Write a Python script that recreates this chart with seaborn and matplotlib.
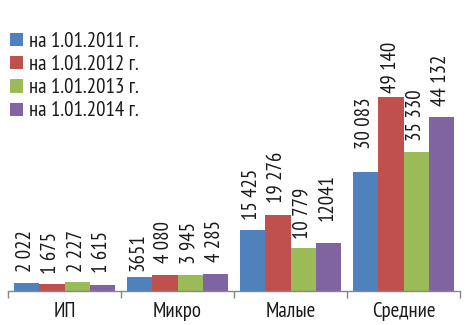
import matplotlib
matplotlib.use("Agg")
import matplotlib.pyplot as plt
import seaborn as sns
import pandas as pd

categories = ["ИП", "Микро", "Малые", "Средние"]
series = ["на 1.01.2011 г.", "на 1.01.2012 г.", "на 1.01.2013 г.", "на 1.01.2014 г."]
values_2011 = [2022, 3651, 15425, 30083]
values_2012 = [1675, 4080, 19276, 49140]
values_2013 = [2227, 3945, 10779, 35330]
values_2014 = [1615, 4285, 12041, 44132]
labels_2011 = ["2 022", "3651", "15 425", "30 083"]
labels_2012 = ["1 675", "4 080", "19 276", "49 140"]
labels_2013 = ["2 227", "3 945", "10 779", "35 330"]
labels_2014 = ["1 615", "4 285", "12041", "44 132"]

# gap between bar top and its value label, in pixels
gaps_2011 = [12, 7, 11, 25]
gaps_2012 = [12, 13, 13, 5]
gaps_2013 = [12, 13, 11, 12]
gaps_2014 = [13, 13, 24, 12]

palette = ["#4F81BD", "#C0504D", "#9BBB59", "#8064A2"]

sns.set_theme(style="white")
plt.rcParams["font.family"] = ["PT Sans Narrow", "Roboto Condensed", "DejaVu Sans"]

all_values = [values_2011, values_2012, values_2013, values_2014]
all_labels = [labels_2011, labels_2012, labels_2013, labels_2014]
all_gaps = [gaps_2011, gaps_2012, gaps_2013, gaps_2014]
rows = []
for s, vals in zip(series, all_values):
    for c, v in zip(categories, vals):
        rows.append({"cat": c, "series": s, "value": v})
df = pd.DataFrame(rows)

fig = plt.figure(figsize=(4.7, 3.25), dpi=100)
ax = fig.add_axes([8 / 470, 34 / 325, 452 / 470, 291 / 325])

sns.barplot(data=df, x="cat", y="value", hue="series", order=categories,
            hue_order=series, palette=palette, width=0.9, saturation=1,
            edgecolor="none", linewidth=0, ax=ax)

for container, labs, gaps in zip(ax.containers, all_labels, all_gaps):
    for bar, lab, gap in zip(container, labs, gaps):
        ax.annotate(lab, (bar.get_x() + bar.get_width() / 2, bar.get_height()),
                    xytext=(-0.7, gap * 0.72 - 1), textcoords="offset points",
                    rotation=90, ha="center", va="bottom",
                    fontsize=15, color="#1a1a1a")

ax.set_xlim(-0.5, 3.5)
ax.set_ylim(0, 73700)
ax.set_xlabel("")
ax.set_ylabel("")
ax.set_yticks([])
for side in ["top", "right", "left"]:
    ax.spines[side].set_visible(False)
ax.spines["bottom"].set_color("#868686")
ax.spines["bottom"].set_linewidth(1)

ax.set_xticks([-0.5, 0.5, 1.5, 2.5, 3.5], minor=True)
ax.tick_params(axis="x", which="minor", length=5, width=1, color="#868686",
               direction="out", bottom=True)
ax.tick_params(axis="x", which="major", length=0, labelsize=15,
               labelcolor="#1a1a1a", pad=8)

leg = ax.legend(loc="upper left", bbox_to_anchor=(10 / 470, 1 - 32 / 325),
                bbox_transform=fig.transFigure, frameon=False,
                fontsize=15, handlelength=0.6, handleheight=0.6,
                handletextpad=0.3, labelspacing=0.2, borderaxespad=0,
                borderpad=0)
for t in leg.get_texts():
    t.set_color("#1a1a1a")

fig.savefig("out.png", dpi=100)
